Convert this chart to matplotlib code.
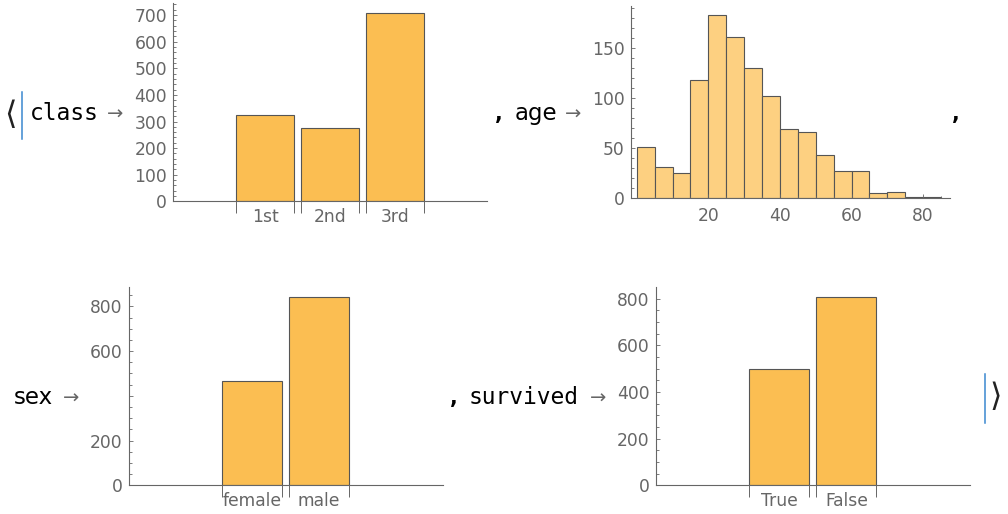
import matplotlib
matplotlib.use("Agg")
import matplotlib.pyplot as plt
from matplotlib.lines import Line2D
from matplotlib.ticker import MultipleLocator, FixedLocator, FixedFormatter
import numpy as np

# data (Titanic passenger counts)
class_labels = ["1st", "2nd", "3rd"]
class_counts = [323, 277, 709]

age_bin_edges = [0, 5, 10, 15, 20, 25, 30, 35, 40, 45, 50, 55, 60, 65, 70, 75, 80, 85]
age_counts = [51, 31, 25, 118, 183, 161, 130, 102, 69, 66, 43, 27, 27, 5, 6, 1, 1]

sex_labels = ["female", "male"]
sex_counts = [466, 843]
sex_ytick_labels = ["0", "200", "", "600", "800"]

survived_labels = ["True", "False"]
survived_counts = [500, 809]

W, H = 1008, 514
BAR = "#FBBE52"
HIST = "#FDD081"
EDGE = "#555555"
AXC = "#666666"
MONO = "DejaVu Sans Mono"
SANS = "DejaVu Sans"
TICK_FS = 12.3

plt.rcParams["font.family"] = SANS


def px_axes(fig, left, right, top, bottom):
    return fig.add_axes([left / W, 1 - bottom / H, (right - left) / W, (bottom - top) / H])


def style_axes(ax):
    for s in ("top", "right"):
        ax.spines[s].set_visible(False)
    for s in ("left", "bottom"):
        ax.spines[s].set_color(AXC)
        ax.spines[s].set_linewidth(0.8)
    ax.tick_params(axis="y", which="both", direction="in", colors=AXC,
                   labelcolor=AXC, labelsize=TICK_FS, pad=4.5, width=0.6)
    ax.tick_params(axis="y", which="major", length=3.2)
    ax.tick_params(axis="y", which="minor", length=1.8)


def bar_panel(ax, labels, counts, side, ymajor, yminor, ylabels=None):
    pos = np.arange(1, len(labels) + 1)
    ax.bar(pos, counts, width=0.9, color=BAR, edgecolor=EDGE, linewidth=0.8)
    ax.set_xlim(1 - side, len(labels) + side)
    ax.set_ylim(0, max(counts) * 1.05)
    style_axes(ax)
    edges = np.concatenate([pos - 0.45, pos + 0.45])
    ax.xaxis.set_major_locator(FixedLocator(edges))
    ax.xaxis.set_major_formatter(FixedFormatter([""] * len(edges)))
    ax.xaxis.set_minor_locator(FixedLocator(pos))
    ax.xaxis.set_minor_formatter(FixedFormatter(labels))
    ax.tick_params(axis="x", which="major", direction="out", length=8.6,
                   width=0.7, colors=AXC)
    ax.tick_params(axis="x", which="minor", length=0, pad=4.6,
                   labelcolor=AXC, labelsize=TICK_FS)
    ax.yaxis.set_major_locator(MultipleLocator(ymajor))
    ax.yaxis.set_minor_locator(MultipleLocator(yminor))
    if ylabels is not None:
        ax.yaxis.set_major_locator(FixedLocator(np.arange(len(ylabels)) * ymajor))
        ax.yaxis.set_major_formatter(FixedFormatter(ylabels))


fig = plt.figure(figsize=(W / 100, H / 100), dpi=100)

# class
ax1 = px_axes(fig, 173.3, 486.7, 3.3, 201.3)
bar_panel(ax1, class_labels, class_counts, 1.415, 100, 20)

# age histogram
ax2 = px_axes(fig, 631, 950, 6, 198.3)
ax2.bar(age_bin_edges[:-1], age_counts, width=np.diff(age_bin_edges), align="edge",
        color=HIST, edgecolor=EDGE, linewidth=0.8)
ax2.set_xlim(-1.6, 87.5)
ax2.set_ylim(0, max(age_counts) * 1.05)
style_axes(ax2)
ax2.yaxis.set_major_locator(MultipleLocator(50))
ax2.yaxis.set_minor_locator(MultipleLocator(10))
ax2.xaxis.set_major_locator(FixedLocator([20, 40, 60, 80]))
ax2.xaxis.set_minor_locator(MultipleLocator(5))
ax2.tick_params(axis="x", which="both", direction="in", colors=AXC,
                labelcolor=AXC, labelsize=TICK_FS, pad=6.5, width=0.6)
ax2.tick_params(axis="x", which="major", length=3.0)
ax2.tick_params(axis="x", which="minor", length=1.6)

# sex
ax3 = px_axes(fig, 128.7, 442.7, 287.3, 485.3)
bar_panel(ax3, sex_labels, sex_counts, 1.85, 200, 50, sex_ytick_labels)

# survived
ax4 = px_axes(fig, 655.9, 969.7, 287.3, 485.3)
bar_panel(ax4, survived_labels, survived_counts, 1.84, 200, 50)

# association wrapper text
def ftext(x, y, s, **kw):
    fig.text(x / W, 1 - y / H, s, **kw)

ftext(4, 115.5, "\u27e8", family=SANS, fontsize=23, va="center", color="#222222")
ftext(29.5, 120, "class", family=MONO, fontsize=16.5, va="baseline")
ftext(107, 120, "\u2192", family=SANS, fontsize=14, va="baseline", color=AXC)
ftext(492, 120, ",", family=MONO, fontsize=16.5, va="baseline", fontweight="bold")
ftext(515, 120, "age", family=SANS, fontsize=16.5, va="baseline")
ftext(565, 120, "\u2192", family=SANS, fontsize=14, va="baseline", color=AXC)
ftext(949, 120, ",", family=MONO, fontsize=16.5, va="baseline", fontweight="bold")
ftext(14, 404, "sex", family=SANS, fontsize=16.5, va="baseline")
ftext(63, 404, "\u2192", family=SANS, fontsize=14, va="baseline", color=AXC)
ftext(447, 404, ",", family=MONO, fontsize=16.5, va="baseline", fontweight="bold")
ftext(469, 404, "survived", family=MONO, fontsize=16.5, va="baseline")
ftext(590, 404, "\u2192", family=SANS, fontsize=14, va="baseline", color=AXC)
ftext(989, 398, "\u27e9", family=SANS, fontsize=23, va="center", color="#222222")

fig.add_artist(Line2D([22 / W, 22 / W], [1 - 91.7 / H, 1 - 139.3 / H],
                      transform=fig.transFigure, color="#3b87d0", linewidth=1.1))
fig.add_artist(Line2D([985 / W, 985 / W], [1 - 374.3 / H, 1 - 423.3 / H],
                      transform=fig.transFigure, color="#3b87d0", linewidth=1.1))

fig.savefig("out.png", dpi=100, facecolor="white")
